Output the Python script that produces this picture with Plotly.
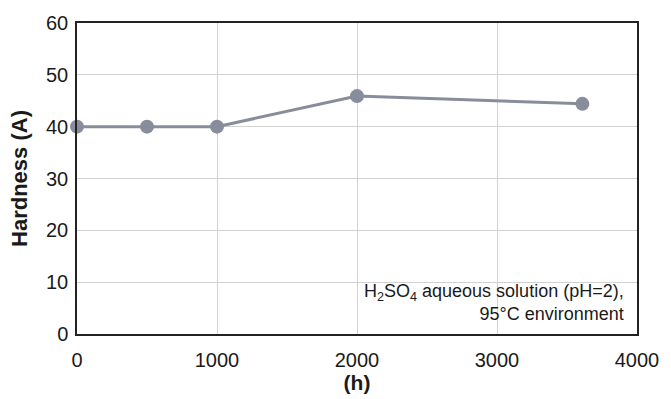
import plotly.graph_objects as go

hours = [0, 500, 1000, 2000, 3610]
hardness = [40, 40, 40, 45.9, 44.4]
x_ticks = [0, 1000, 2000, 3000, 4000]
y_ticks = [0, 10, 20, 30, 40, 50, 60]

FONT = "Liberation Sans, Arial, sans-serif"
LINE_COLOR = "#878d9b"

fig = go.Figure()
fig.add_trace(go.Scatter(
    x=hours, y=hardness, mode="lines+markers",
    line=dict(color=LINE_COLOR, width=3),
    marker=dict(color=LINE_COLOR, size=14),
    cliponaxis=False, showlegend=False,
))

fig.update_layout(
    width=671, height=399,
    margin=dict(l=77, r=32, t=19, b=65),
    plot_bgcolor="white", paper_bgcolor="white",
    font=dict(family=FONT, size=20, color="#1a1a1a"),
    xaxis=dict(
        range=[0, 4000], tickvals=x_ticks, ticktext=[str(v) for v in x_ticks],
        showgrid=True, gridcolor="#d2d2d2", gridwidth=1,
        showline=True, linecolor="#222", linewidth=1.5, mirror=True,
        ticks="outside", ticklen=7, tickcolor="rgba(0,0,0,0)",
        tickfont=dict(size=20), zeroline=False,
        title=dict(text="<b>(h)</b>", font=dict(size=21), standoff=2),
    ),
    yaxis=dict(
        range=[0, 60], tickvals=y_ticks, ticktext=[str(v) for v in y_ticks],
        showgrid=True, gridcolor="#d2d2d2", gridwidth=1,
        showline=True, linecolor="#222", linewidth=1.5, mirror=True,
        ticks="outside", ticklen=3, tickcolor="rgba(0,0,0,0)",
        tickfont=dict(size=20), zeroline=False,
        title=dict(text="<b>Hardness (A)</b>", font=dict(size=22), standoff=12),
    ),
)

fig.add_annotation(
    xref="paper", yref="paper", x=0.98, y=0.025, xanchor="right", yanchor="bottom",
    text="H<sub>2</sub>SO<sub>4</sub> aqueous solution (pH=2),<br>95°C environment",
    align="right", showarrow=False, font=dict(size=18, color="#1a1a1a"),
)

fig.write_html("out.html")
